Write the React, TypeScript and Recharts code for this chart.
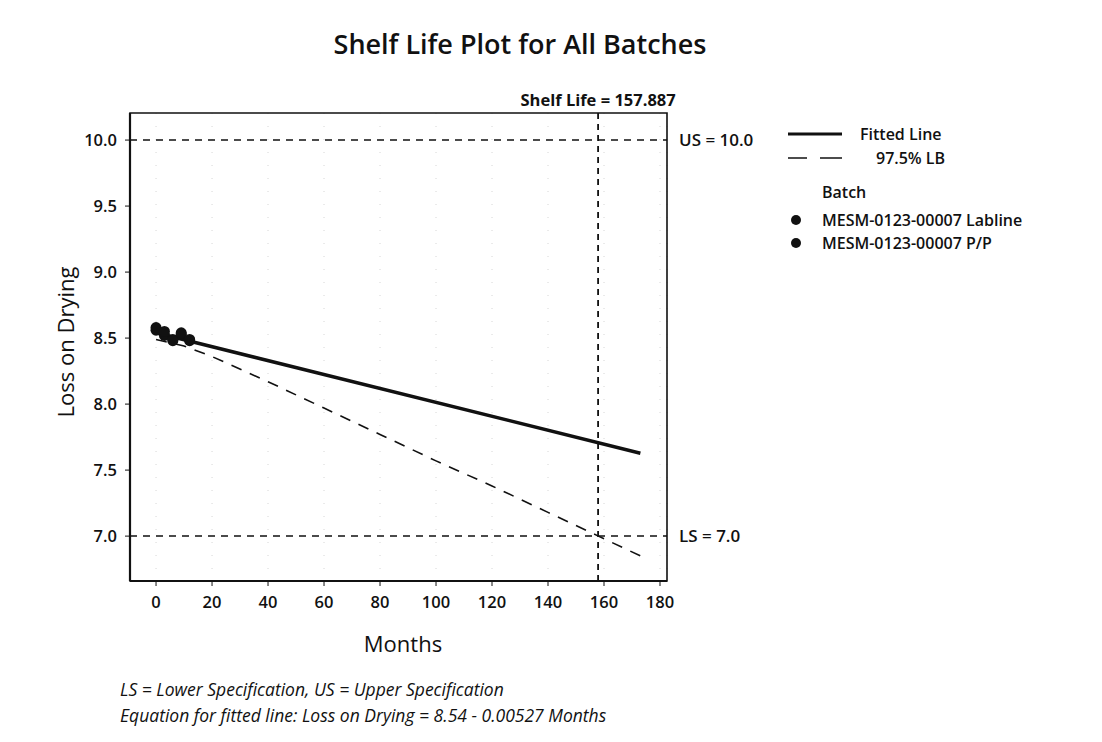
import React from 'react';
import {
  ComposedChart, Line, Scatter, XAxis, YAxis, ReferenceLine, ReferenceArea, CartesianGrid,
} from 'recharts';

// ---------- data ----------
const batchNames = ['MESM-0123-00007 Labline', 'MESM-0123-00007 P/P'];
const batchLablineMonths = [0, 3, 6, 9, 12];
const batchLablineValues = [8.58, 8.55, 8.48, 8.54, 8.49];
const batchPPMonths = [0, 3, 6, 9, 12];
const batchPPValues = [8.56, 8.52, 8.49, 8.53, 8.48];

const fittedMonths = [0, 173];
const fittedValues = [8.54, 7.628];

const lowerBoundMonths = [0, 10, 20, 40, 60, 80, 100, 120, 140, 158, 173];
const lowerBoundValues = [8.49, 8.44, 8.36, 8.17, 7.97, 7.77, 7.57, 7.38, 7.18, 7.0, 6.85];

const xTicks = [0, 20, 40, 60, 80, 100, 120, 140, 160, 180];
const yTicks = [7.0, 7.5, 8.0, 8.5, 9.0, 9.5, 10.0];

const xDomain = [-9.3, 182.5];
const yDomain = [6.66, 10.205];

const upperSpec = 10.0;
const lowerSpec = 7.0;
const shelfLife = 157.887;

const titleText = 'Shelf Life Plot for All Batches';
const xLabel = 'Months';
const yLabel = 'Loss on Drying';
const footnote1 = 'LS = Lower Specification, US = Upper Specification';
const footnote2 = 'Equation for fitted line: Loss on Drying = 8.54 - 0.00527 Months';

const toPoints = (xs: number[], ys: number[]) => xs.map((x, i) => ({ x, y: ys[i] }));

const FONT = '"Open Sans", "Noto Sans", sans-serif';

export default function App() {
  const fitted = toPoints(fittedMonths, fittedValues);
  const lb = toPoints(lowerBoundMonths, lowerBoundValues);
  const labline = toPoints(batchLablineMonths, batchLablineValues);
  const pp = toPoints(batchPPMonths, batchPPValues);

  const tickStyle = { fontSize: 16.5, fill: '#111', fontFamily: FONT, fontWeight: 600 };
  const refLabel = { fill: '#111', fontSize: 17, fontFamily: FONT, fontWeight: 600 };

  return (
    <div style={{ position: 'absolute', left: 0, top: 0, width: 1102, height: 742, background: '#fff', fontFamily: FONT, color: '#111' }}>
      <ComposedChart
        width={1102}
        height={742}
        margin={{ top: 113, right: 435, bottom: 131, left: 70 }}
      >
        <CartesianGrid xAxisId="b" yAxisId="l" horizontal={false} vertical stroke="#d6d6d6" strokeDasharray="1 12" />
        <XAxis
          xAxisId="b"
          type="number"
          dataKey="x"
          domain={xDomain}
          ticks={xTicks}
          allowDataOverflow
          height={30}
          tickSize={5}
          tickMargin={10}
          tick={tickStyle}
          axisLine={{ stroke: '#111', strokeWidth: 2.2 }}
          tickLine={{ stroke: '#111' }}
        />
        <YAxis
          yAxisId="l"
          type="number"
          dataKey="y"
          domain={yDomain}
          ticks={yTicks}
          allowDataOverflow
          width={60}
          tickSize={5}
          tickMargin={8}
          tick={tickStyle}
          tickFormatter={(v: number) => v.toFixed(1)}
          axisLine={{ stroke: '#111', strokeWidth: 2.2 }}
          tickLine={{ stroke: '#111' }}
        />
        <ReferenceArea
          xAxisId="b" yAxisId="l"
          x1={xDomain[0]} x2={xDomain[1]} y1={yDomain[0]} y2={yDomain[1]}
          fill="none" fillOpacity={0} stroke="#111" strokeWidth={1.6} ifOverflow="visible"
        />
        <ReferenceLine
          xAxisId="b" yAxisId="l" y={upperSpec}
          stroke="#111" strokeWidth={1.5} strokeDasharray="7 6"
          label={{ value: `US = ${upperSpec.toFixed(1)}`, position: 'right', offset: 12, ...refLabel }}
        />
        <ReferenceLine
          xAxisId="b" yAxisId="l" y={lowerSpec}
          stroke="#111" strokeWidth={1.5} strokeDasharray="7 6"
          label={{ value: `LS = ${lowerSpec.toFixed(1)}`, position: 'right', offset: 12, ...refLabel }}
        />
        <ReferenceLine
          xAxisId="b" yAxisId="l" x={shelfLife}
          stroke="#111" strokeWidth={1.8} strokeDasharray="6 5"
          label={{ value: `Shelf Life = ${shelfLife}`, position: 'top', offset: 7, fill: '#111', fontSize: 16.5, fontFamily: FONT, fontWeight: 700 }}
        />
        <Line
          xAxisId="b" yAxisId="l"
          data={lb} dataKey="y" type="linear"
          stroke="#111" strokeWidth={1.6} strokeDasharray="11 9"
          dot={false} activeDot={false} isAnimationActive={false}
        />
        <Line
          xAxisId="b" yAxisId="l"
          data={fitted} dataKey="y" type="linear"
          stroke="#111" strokeWidth={3.5}
          dot={false} activeDot={false} isAnimationActive={false}
        />
        <Scatter
          xAxisId="b" yAxisId="l"
          data={pp} dataKey="y" name={batchNames[1]}
          fill="#111" isAnimationActive={false}
          shape={(p: any) => <circle cx={p.cx} cy={p.cy} r={5.5} fill="#111" />}
        />
        <Scatter
          xAxisId="b" yAxisId="l"
          data={labline} dataKey="y" name={batchNames[0]}
          fill="#111" isAnimationActive={false}
          shape={(p: any) => <circle cx={p.cx} cy={p.cy} r={5.5} fill="#111" />}
        />
      </ComposedChart>

      {/* Title */}
      <div style={{ position: 'absolute', left: 0, width: 1040, top: 25, textAlign: 'center', fontSize: 27, fontWeight: 600, whiteSpace: 'nowrap' }}>
        {titleText}
      </div>

      {/* Y axis label */}
      <div style={{ position: 'absolute', left: 65, top: 342, transform: 'translate(-50%, -50%) rotate(-90deg)', fontSize: 22, whiteSpace: 'nowrap' }}>
        {yLabel}
      </div>

      {/* X axis label */}
      <div style={{ position: 'absolute', left: 403, top: 643, transform: 'translate(-50%, -50%)', fontSize: 22, whiteSpace: 'nowrap' }}>
        {xLabel}
      </div>

      {/* Footnotes */}
      <div style={{ position: 'absolute', left: 120, top: 677, fontSize: 17.5, fontStyle: 'italic', whiteSpace: 'nowrap' }}>
        {footnote1}
      </div>
      <div style={{ position: 'absolute', left: 120, top: 703, fontSize: 17.5, fontStyle: 'italic', whiteSpace: 'nowrap' }}>
        {footnote2}
      </div>

      {/* Legend */}
      <div style={{ position: 'absolute', left: 780, top: 120, width: 322, height: 140 }}>
        <svg width={322} height={140} style={{ position: 'absolute', left: 0, top: 0 }}>
          <line x1={8} x2={62} y1={14} y2={14} stroke="#111" strokeWidth={3} />
          <line x1={8} x2={27} y1={38} y2={38} stroke="#111" strokeWidth={1.5} />
          <line x1={40} x2={62} y1={38} y2={38} stroke="#111" strokeWidth={1.5} />
          <circle cx={16} cy={100} r={5} fill="#111" />
          <circle cx={16} cy={123} r={5} fill="#111" />
        </svg>
        <div style={{ position: 'absolute', left: 80, top: 3, fontSize: 16, fontWeight: 600 }}>Fitted Line</div>
        <div style={{ position: 'absolute', left: 96, top: 27, fontSize: 16, fontWeight: 600 }}>97.5% LB</div>
        <div style={{ position: 'absolute', left: 42, top: 61, fontSize: 16, fontWeight: 600 }}>Batch</div>
        <div style={{ position: 'absolute', left: 42, top: 89, fontSize: 16, fontWeight: 600 }}>{batchNames[0]}</div>
        <div style={{ position: 'absolute', left: 42, top: 112, fontSize: 16, fontWeight: 600 }}>{batchNames[1]}</div>
      </div>
    </div>
  );
}
